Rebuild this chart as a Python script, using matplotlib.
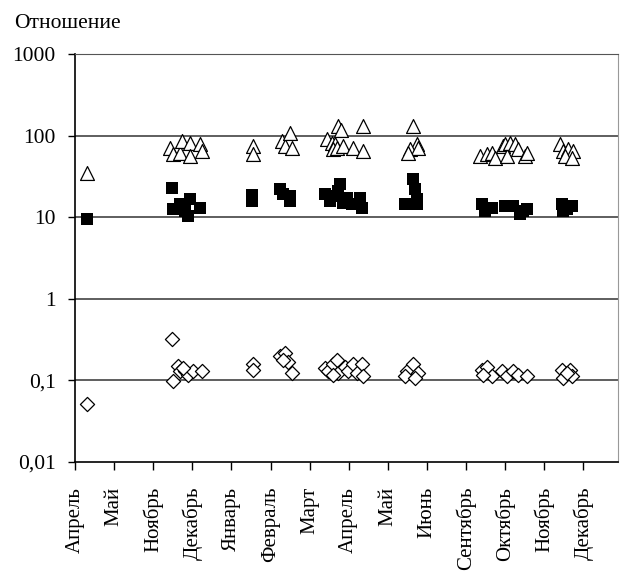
import matplotlib
matplotlib.use("Agg")
import matplotlib.pyplot as plt
import numpy as np

months = ["Апрель", "Май", "Ноябрь", "Декабрь", "Январь", "Февраль", "Март",
          "Апрель", "Май", "Июнь", "Сентябрь", "Октябрь", "Ноябрь", "Декабрь"]

# x = position in month units (0 = first April tick)
tri_x = [0.31,
         2.43, 2.51, 2.69, 2.74, 2.94, 2.94, 3.20, 3.25,
         4.55, 4.55,
         5.29, 5.37, 5.50, 5.55,
         6.45, 6.57, 6.65, 6.60, 6.70, 6.73, 6.80, 6.85, 7.11, 7.37, 7.37,
         8.64, 8.75, 8.57, 8.77, 8.52,
         10.36, 10.54, 10.66, 10.74, 10.95, 11.00, 11.05, 11.13, 11.25, 11.33, 11.51, 11.56,
         12.40, 12.48, 12.61, 12.74, 12.53, 12.71]
tri_y = [35,
         70, 59, 61, 86, 81, 56, 80, 65,
         74, 59,
         86, 74, 107, 70,
         90, 81, 80, 68, 70, 131, 118, 74, 70, 131, 65,
         131, 80, 68, 70, 61,
         56, 59, 61, 53, 74, 80, 56, 81, 80, 68, 56, 61,
         80, 65, 68, 65, 56, 53]

sq_x = [0.31,
        2.48, 2.51, 2.69, 2.94, 2.89, 3.20, 2.81,
        4.53, 4.53,
        5.24, 5.32, 5.50, 5.50,
        6.39, 6.52, 6.78, 6.73, 6.96, 7.08, 7.29, 7.34, 6.85, 6.57,
        8.64, 8.70, 8.75, 8.44, 8.75,
        10.41, 10.54, 10.66, 10.49, 11.00, 11.20, 11.46, 11.38, 11.56,
        12.46, 12.58, 12.71, 12.48]
sq_y = [9.5,
        22.7, 12.5, 14.4, 16.6, 10.3, 12.9, 11.8,
        18.6, 15.7,
        22, 19, 15.7, 18,
        19, 15.7, 25.4, 20.8, 17, 14.4, 17, 12.9, 14.8, 18,
        29, 22, 16.6, 14.4, 14.4,
        14.4, 12.9, 12.9, 11.8, 13.6, 13.6, 11.8, 10.9, 12.5,
        14.4, 12.5, 13.6, 11.8]

dia_x = [0.31,
         2.48, 2.51, 2.63, 2.69, 2.81, 2.89, 3.02, 3.25, 2.76,
         4.55, 4.55,
         5.24, 5.37, 5.45, 5.55, 5.32,
         6.39, 6.47, 6.60, 6.70, 6.73, 6.91, 6.98, 7.11, 7.21, 7.34, 7.37, 6.60,
         8.49, 8.64, 8.77, 8.44, 8.70,
         10.41, 10.54, 10.66, 10.92, 11.05, 11.20, 11.33, 11.56, 10.43,
         12.46, 12.66, 12.48, 12.71, 12.58]
dia_y = [0.052,
         0.32, 0.097, 0.15, 0.13, 0.13, 0.118, 0.13, 0.13, 0.14,
         0.157, 0.136,
         0.197, 0.214, 0.17, 0.122, 0.18,
         0.14, 0.13, 0.157, 0.18, 0.122, 0.148, 0.13, 0.157, 0.122, 0.16, 0.112, 0.118,
         0.13, 0.157, 0.122, 0.112, 0.106,
         0.136, 0.148, 0.112, 0.13, 0.112, 0.13, 0.118, 0.112, 0.118,
         0.136, 0.136, 0.106, 0.112, 0.122]

ytick_vals = [0.01, 0.1, 1, 10, 100, 1000]
ytick_labels = ["0,01", "0,1", "1", "10", "100", "1000"]

plt.rcParams["font.family"] = ["Liberation Serif", "DejaVu Serif"]

fig = plt.figure(figsize=(6.24, 5.74), dpi=100)
ax = fig.add_axes([75 / 624, 1 - 462 / 574, 543 / 624, 408 / 574])

ax.set_yscale("log")
ax.set_ylim(0.01, 1000)
ax.set_xlim(0, 543 / 39.1)

for v in [0.1, 1, 10, 100]:
    ax.axhline(v, color="#333333", lw=1.1, zorder=1)

ax.scatter(dia_x, dia_y, marker="D", s=52, facecolors="white",
           edgecolors="black", linewidths=0.9, zorder=3)
ax.scatter(sq_x, sq_y, marker="s", s=72, color="black", linewidths=0, zorder=3)
ax.scatter(tri_x, tri_y, marker="^", s=100, facecolors="white",
           edgecolors="black", linewidths=0.9, zorder=3)

ax.set_yticks(ytick_vals)
ax.set_yticklabels(ytick_labels)
ax.yaxis.set_minor_locator(matplotlib.ticker.NullLocator())
ax.tick_params(axis="y", which="major", length=5, width=1, pad=9, labelsize=15.5)

ax.set_xticks(np.arange(len(months)))
ax.set_xticklabels(months, rotation=90, va="top", ha="center")
ax.tick_params(axis="x", which="major", length=6, width=1, pad=12, labelsize=15)

for side in ["left", "bottom"]:
    ax.spines[side].set_color("black")
    ax.spines[side].set_linewidth(1.2)
ax.spines["top"].set_color("#555555")
ax.spines["right"].set_color("#999999")

fig.text(14 / 624, 1 - 28 / 574, "Отношение", fontsize=15.5, va="baseline", ha="left")

fig.savefig("out.png", dpi=100)
